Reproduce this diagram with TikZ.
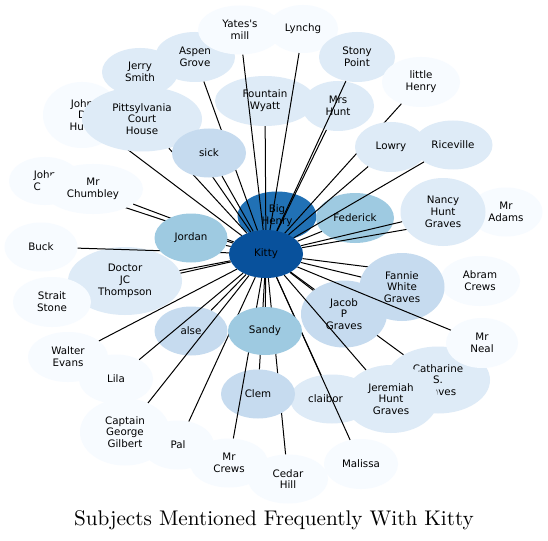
\documentclass[tikz,border=0pt]{standalone}
\usepackage{fontspec}
\newfontfamily\nodefont{DejaVu Sans}
\usetikzlibrary{shapes.geometric}
\definecolor{cA}{HTML}{F7FBFF}
\definecolor{cB}{HTML}{DEEBF7}
\definecolor{cC}{HTML}{C6DBEF}
\definecolor{cD}{HTML}{9ECAE1}
\definecolor{cE}{HTML}{2171B5}
\definecolor{cF}{HTML}{08519C}
\begin{document}
\begin{tikzpicture}[x=1pt,y=-1pt,
  nd/.style={ellipse,inner sep=0pt,align=center,text=black,
    font=\nodefont\fontsize{10.3}{11.8}\selectfont},
  sz/.style 2 args={minimum width=#1pt,minimum height=#2pt},
  edge/.style={line width=1pt,black}]
\fill[white] (0,0) rectangle (548,540);
\useasboundingbox (0,0) rectangle (548,540);
% centre
\node[nd,fill=cE,sz={79}{49}] (bigh) at (277,216) {Big\\Henry};
\node[nd,fill=cF,sz={74}{48}] (kitty) at (266,254) {Kitty};
% upper left
\node[nd,fill=cA,sz={78}{66}] (johnd) at (82,115) {John\\D\\Hu\phantom{nt}};
\draw[edge] (kitty) -- (johnd);
\node[nd,fill=cB,sz={76}{48}] (jerry) at (140,72) {Jerry\\Smith};
\draw[edge] (kitty) -- (jerry);
\node[nd,fill=cB,sz={120}{65}] (pitt) at (142,119) {Pittsylvania\\Court\\House};
\draw[edge] (kitty) -- (pitt);
\node[nd,fill=cB,sz={80}{50}] (aspen) at (195,57) {Aspen\\Grove};
\draw[edge] (kitty) -- (aspen);
\node[nd,fill=cC,sz={74}{49}] (sick) at (209,153) {sick};
\draw[edge] (kitty) -- (sick);
% top
\node[nd,fill=cB,sz={100}{50}] (fount) at (265,101) {Fountain\\Wyatt};
\draw[edge] (kitty) -- (fount);
\node[nd,fill=cA,sz={84}{49}] (yates) at (240,30) {Yates's\\mill};
\draw[edge] (kitty) -- (yates);
\node[nd,fill=cA,sz={70}{48}] (lynch) at (303,29) {Lynchg};
\draw[edge] (kitty) -- (lynch);
\node[nd,fill=cB,sz={72}{50}] (mrshunt) at (338,106) {Mrs\\Hunt};
\draw[edge] (kitty) -- (mrshunt);
\node[nd,fill=cB,sz={76}{50}] (stony) at (357,57) {Stony\\Point};
\draw[edge] (kitty) -- (stony);
% upper right
\node[nd,fill=cA,sz={78}{50}] (lhenry) at (421,82) {little\\Henry};
\draw[edge] (kitty) -- (lhenry);
\node[nd,fill=cD,sz={78}{50}] (fed) at (355,218) {Federick};
\draw[edge] (kitty) -- (fed);
\node[nd,fill=cB,sz={72}{50}] (lowry) at (391,147) {Lowry};
\draw[edge] (kitty) -- (lowry);
\node[nd,fill=cB,sz={79}{49}] (rice) at (453,145) {Riceville};
\draw[edge] (kitty) -- (rice);
\node[nd,fill=cA,sz={73}{49}] (mradams) at (506,212) {Mr\\Adams};
\draw[edge] (kitty) -- (mradams);
\node[nd,fill=cB,sz={85}{68}] (nancy) at (443,212) {Nancy\\Hunt\\Graves};
\draw[edge] (kitty) -- (nancy);
% right
\node[nd,fill=cA,sz={80}{50}] (abram) at (480,281) {Abram\\Crews};
\draw[edge] (kitty) -- (abram);
\node[nd,fill=cC,sz={85}{68}] (fannie) at (402,287) {Fannie\\White\\Graves};
\draw[edge] (kitty) -- (fannie);
\node[nd,fill=cB,sz={104}{67}] (cath) at (438,380) {Catharine\\S.\\Graves};
\draw[edge] (kitty) -- (cath);
\node[nd,fill=cC,sz={86}{67}] (jacob) at (344,314) {Jacob\\P\\Graves};
\draw[edge] (kitty) -- (jacob);
\node[nd,fill=cA,sz={72}{50}] (mrneal) at (482,343) {Mr\\Neal};
\draw[edge] (kitty) -- (mrneal);
\node[nd,fill=cB,sz={84}{49}] (claib) at (332,399) {claibor\phantom{ne}};
\draw[edge] (kitty) -- (claib);
\node[nd,fill=cB,sz={94}{68}] (jerem) at (391,399) {Jeremiah\\Hunt\\Graves};
\draw[edge] (kitty) -- (jerem);
% bottom
\node[nd,fill=cA,sz={74}{50}] (malissa) at (361,464) {Malissa};
\draw[edge] (kitty) -- (malissa);
\node[nd,fill=cA,sz={80}{49}] (cedar) at (288,479) {Cedar\\Hill};
\draw[edge] (kitty) -- (cedar);
\node[nd,fill=cC,sz={74}{49}] (clem) at (258,394) {Clem};
\draw[edge] (kitty) -- (clem);
\node[nd,fill=cA,sz={78}{49}] (mrcrews) at (229,463) {Mr\\Crews};
\draw[edge] (kitty) -- (mrcrews);
\node[nd,fill=cA,sz={72}{49}] (pal) at (178,445) {Pal};
\draw[edge] (kitty) -- (pal);
\node[nd,fill=cD,sz={74}{48}] (sandy) at (265,331) {Sandy};
\draw[edge] (kitty) -- (sandy);
\node[nd,fill=cC,sz={73}{49}] (alse) at (191,331) {alse};
\draw[edge] (kitty) -- (alse);
\node[nd,fill=cA,sz={90}{67}] (capt) at (125,432) {Captain\\George\\Gilbert};
\draw[edge] (kitty) -- (capt);
\node[nd,fill=cA,sz={74}{49}] (lila) at (116,379) {Lila};
\draw[edge] (kitty) -- (lila);
\node[nd,fill=cA,sz={80}{50}] (walter) at (68,357) {Walter\\Evans};
\draw[edge] (kitty) -- (walter);
% left
\path node[nd,sz={78}{50}] (straitb) at (52,302) {};
\draw[edge] (kitty) -- (straitb);
\node[nd,fill=cB,sz={114}{68}] (doctor) at (125,281) {Doctor\\JC\\Thompson};
\draw[edge] (kitty) -- (doctor);
\node[nd,fill=cA,sz={78}{50}] (strait) at (52,302) {Strait\\Stone};
\node[nd,fill=cA,sz={73}{49}] (buck) at (41,247) {Buck};
\draw[edge] (kitty) -- (buck);
\node[nd,fill=cA,sz={72}{48}] (johnc) at (45,181) {John\\C\phantom{ole}};
\draw[edge] (kitty) -- (johnc);
\node[nd,fill=cA,sz={100}{50}] (chumb) at (93,189) {Mr\\Chumbley};
\draw[edge] (kitty) -- (chumb);
\node[nd,fill=cD,sz={73}{49}] (jordan) at (191,238) {Jordan};
\draw[edge] (kitty) -- (jordan);
% title
\node[anchor=base,font=\fontsize{10}{12}\selectfont,inner sep=0pt,scale=2.12,transform shape] (title) at (274,525) {Subjects Mentioned Frequently With Kitty};
\end{tikzpicture}
\end{document}
